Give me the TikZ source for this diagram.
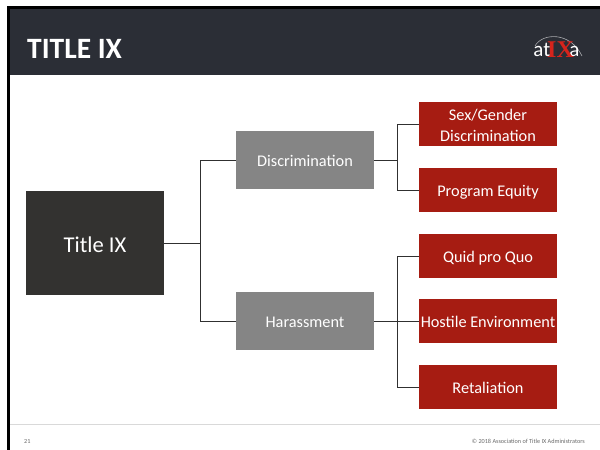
\documentclass[tikz,border=0pt]{standalone}
\usepackage{fontspec}
\setmainfont{Carlito}
\newfontfamily\logofont{Liberation Serif}
\definecolor{hdr}{HTML}{2B2E36}
\definecolor{rootc}{HTML}{333230}
\definecolor{midc}{HTML}{858585}
\definecolor{leafc}{HTML}{A61C12}
\definecolor{linec}{HTML}{303030}
\definecolor{footc}{HTML}{6A6A6A}
\begin{document}
\begin{tikzpicture}[x=1pt,y=-1pt,
  rootbox/.style={fill=rootc,text=white,minimum width=138pt,minimum height=104pt,inner sep=0pt,text height=21pt,text depth=2pt,font=\fontsize{22.6}{27}\selectfont},
  midbox/.style={fill=midc,text=white,minimum width=138pt,minimum height=58pt,inner sep=0pt,text height=15pt,text depth=2pt,font=\fontsize{16.3}{20}\selectfont},
  leafbox/.style={fill=leafc,text=white,minimum width=138pt,minimum height=44pt,inner sep=0pt,align=center,font=\fontsize{16.3}{20.5}\selectfont},
  leafline/.style={leafbox,text height=15pt,text depth=2pt},
  link/.style={draw=linec,line width=0.8pt},
  foot/.style={text=footc,inner sep=0pt,font=\fontsize{6.2}{7}\selectfont}]
\useasboundingbox (0,0) rectangle (600,450);
\fill[white] (0,0) rectangle (600,450);
\fill[hdr] (10,9) rectangle (600,75);
\fill[black] (7,6) rectangle (600,9);
\fill[black] (7,6) rectangle (10,450);
\node[text=white,inner sep=0pt,anchor=west,font=\fontsize{29.5}{34}\selectfont\bfseries] (title) at (27,49) {TITLE IX};
% logo
\draw[draw=white!60!hdr,line width=0.6pt] (535,46) .. controls (542,33) and (570,31) .. (582,56);
\node[text=white,inner sep=0pt,font=\fontsize{21}{22}\selectfont] (logoa) at (538.5,51.5) {a};
\node[text=white,inner sep=0pt,font=\fontsize{21}{22}\selectfont] (logot) at (547,50) {t};
\node[text=white,inner sep=0pt,font=\fontsize{21}{22}\selectfont] (logob) at (574.5,51.5) {a};
\node[text={rgb,255:red,214;green,36;blue,28},inner sep=0pt,font=\logofont\bfseries\fontsize{24}{26}\selectfont] (logoix) at (560.5,50) {IX};
% nodes
\node[rootbox] (root) at (95,243) {Title IX};
\node[midbox] (disc) at (305,160) {Discrimination};
\node[midbox] (har) at (305,321) {Harassment};
\node[leafbox] (sex) at (488,124) {\rule{0pt}{14pt}Sex/Gender\\Discrimination};
\node[leafline] (prog) at (488,190) {Program Equity};
\node[leafline] (quid) at (488,256) {Quid pro Quo};
\node[leafline] (host) at (488,321) {Hostile Environment};
\node[leafline] (ret) at (488,387) {Retaliation};
% connectors
\coordinate (t1) at (200,243);
\coordinate (t2) at (397,160);
\coordinate (t3) at (397,321);
\draw[link] (root.east) -- (t1);
\draw[link] (t1) |- (disc.west);
\draw[link] (t1) |- (har.west);
\draw[link] (disc.east) -- (t2);
\draw[link] (t2) |- (sex.west);
\draw[link] (t2) |- (prog.west);
\draw[link] (har.east) -- (t3);
\draw[link] (t3) |- (quid.west);
\draw[link] (t3) -- (host.west);
\draw[link] (t3) |- (ret.west);
% footer
\draw[draw=black!15,line width=0.7pt] (10,424.5) -- (600,424.5);
\node[foot,anchor=west] (num) at (24,441) {21};
\node[foot,anchor=east] (copy) at (585,441) {© 2018 Association of Title IX Administrators};
\end{tikzpicture}
\end{document}
